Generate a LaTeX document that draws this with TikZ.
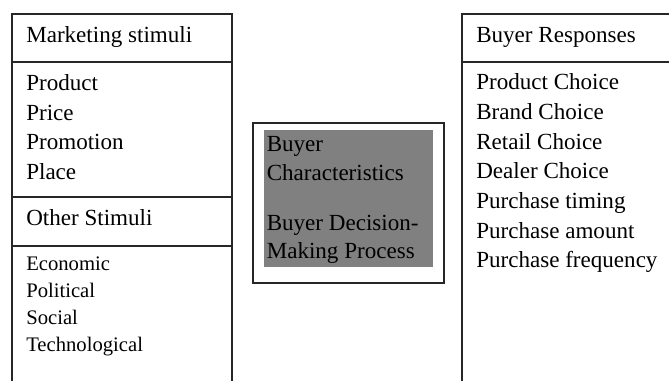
\documentclass[tikz,border=0pt]{standalone}
\usepackage{fontspec}
\setmainfont{Liberation Serif}
\usetikzlibrary{positioning}

\begin{document}
\begin{tikzpicture}[
        x=0.75pt, y=-0.75pt,
        % Marcos de las columnas
        panel/.style={
                draw=black!85,
                line width=0.9pt
            },
        % Fondo gris central
        core/.style={
                fill=black!50
            },
        % Textos
        item/.style={
                anchor=base west,
                inner sep=0pt,
                font=\fontsize{17.3}{20}\selectfont
            },
        smallitem/.style={
                anchor=base west,
                inner sep=0pt,
                font=\fontsize{15.5}{18}\selectfont
            }
    ]

    \useasboundingbox (0,0) rectangle (669,380);
    \clip (0,0) rectangle (669,380);

    % Columna izquierda
    \draw[panel] (12,392) |- (232,14) -- (232,392);
    \draw[panel] (12,62) -- (232,62);
    \draw[panel] (12,197) -- (232,197);
    \draw[panel] (12,246) -- (232,246);

    \node[item] (marketing) at (26,42.3) {Marketing stimuli};
    \foreach \txt [count=\i] in {Product,Price,Promotion,Place}
        \node[item] (mk\i) at (26,{90.7+29.5*(\i-1)}) {\txt};

    \node[item] (other) at (26,225) {Other Stimuli};
    \foreach \txt [count=\i] in {Economic,Political,Social,Technological}
        \node[smallitem] (os\i) at (26,{270.2+27.2*(\i-1)}) {\txt};

    % Caja central
    \draw[panel] (253,123) rectangle (444,283);
    \fill[core] (264,130) rectangle (433,267);

    \node[item] (buyer1) at (266.5,151.7) {Buyer};
    \node[item] (buyer2) at (266.5,180.2) {Characteristics};
    \node[item] (buyer3) at (266.5,230) {Buyer Decision-};
    \node[item] (buyer4) at (266.5,258.5) {Making Process};

    % Columna derecha
    \draw[panel] (462,392) |- (680,14);
    \draw[panel] (462,62) -- (680,62);

    \node[item] (responses) at (476,42.3) {Buyer Responses};
    \foreach \txt [count=\i] in {Product Choice,Brand Choice,Retail Choice,Dealer Choice,Purchase timing,Purchase amount,Purchase frequency}
        \node[item] (br\i) at (476,{89.7+29.7*(\i-1)}) {\txt};

\end{tikzpicture}
\end{document}
